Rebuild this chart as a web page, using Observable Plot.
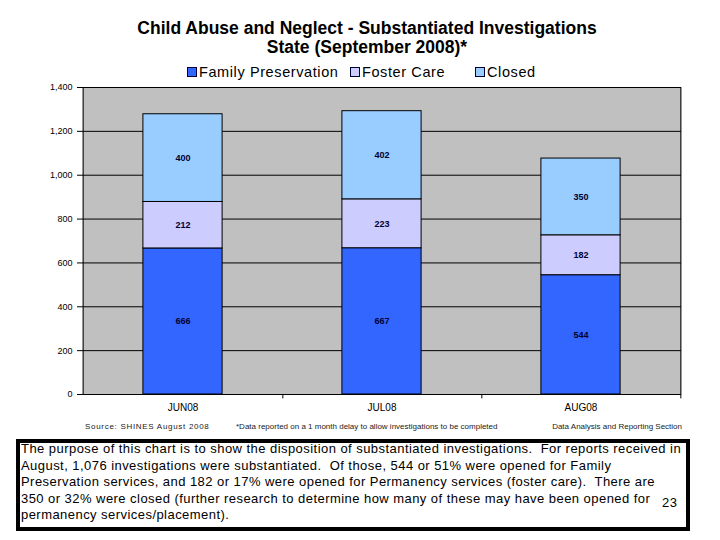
<!DOCTYPE html>
<html><head><meta charset="utf-8">
<script src="https://cdn.jsdelivr.net/npm/d3@7"></script>
<script src="https://cdn.jsdelivr.net/npm/@observablehq/plot@0.6"></script>
<style>
body{margin:0;background:#fff;font-family:"Liberation Sans",Arial,sans-serif;}
#wrap{position:relative;width:720px;height:540px;overflow:hidden;background:#fff;}
#title{position:absolute;left:0;width:734px;top:19px;text-align:center;font-weight:bold;font-size:17.5px;line-height:19px;color:#000;}
#legend{position:absolute;left:0;top:64px;width:720px;height:16px;font-size:14.5px;letter-spacing:0.6px;color:#000;white-space:nowrap;}
#legend .it{position:absolute;top:0;display:flex;align-items:center;height:16px;}
#legend .sw{width:8px;height:8px;border:1px solid #000033;margin-right:2px;}
#chart{position:absolute;left:0;top:78px;}
#notes{position:absolute;top:422px;left:0;width:720px;font-size:8px;color:#222;}
#notes span{position:absolute;white-space:nowrap;}
#box{position:absolute;left:16px;top:439px;width:666px;height:84px;border:4px solid #000;}
#box .ln{position:absolute;left:1px;white-space:pre;font-size:13px;line-height:16.5px;letter-spacing:0.45px;color:#000;}
#pg{position:absolute;left:642px;top:52px;font-size:13px;line-height:16.5px;letter-spacing:0.45px;}
</style></head><body>
<div id="wrap">
  <div id="title">Child Abuse and Neglect - Substantiated Investigations<br>State (September 2008)*</div>
  <div id="legend"></div>
  <div id="chart"></div>
  <div id="notes">
    <span style="left:85px;letter-spacing:0.7px">Source: SHINES August 2008</span>
    <span style="left:236px">*Data reported on a 1 month delay to allow investigations to be completed</span>
    <span style="right:38px">Data Analysis and Reporting Section</span>
  </div>
  <div id="box"></div>
</div>
<script>
const months = ["JUN08", "JUL08", "AUG08"];
const seriesNames = ["Family Preservation", "Foster Care", "Closed"];
const familyPreservation = [666, 667, 544];
const fosterCare = [212, 223, 182];
const closed = [400, 402, 350];
const seriesColors = ["#3366FF", "#CCCCFF", "#99CCFF"];
const yTicks = [0, 200, 400, 600, 800, 1000, 1200, 1400];
const boxLines = [
  "The purpose of this chart is to show the disposition of substantiated investigations.  For reports received in",
  "August, 1,076 investigations were substantiated.  Of those, 544 or 51% were opened for Family",
  "Preservation services, and 182 or 17% were opened for Permanency services (foster care).  There are",
  "350 or 32% were closed (further research to determine how many of these may have been opened for",
  "permanency services/placement)."
];
const pageNumber = "23";

const rows = [];
[familyPreservation, fosterCare, closed].forEach((vals, s) =>
  vals.forEach((v, i) => rows.push({month: months[i], series: seriesNames[s], value: v})));

const W = 720, H = 362, mL = 82, mR = 39, mT = 9, mB = 46;
const bw = (W - mL - mR) / months.length;

const chart = Plot.plot({
  width: W, height: H,
  marginTop: mT, marginLeft: mL, marginRight: mR, marginBottom: mB,
  style: {background: "transparent", fontFamily: "Liberation Sans, Arial, sans-serif", fontSize: "9px", color: "#000"},
  x: {domain: months, padding: 0, label: null},
  y: {domain: [0, 1400], label: null},
  color: {domain: seriesNames, range: seriesColors},
  marks: [
    Plot.frame({fill: "#C0C0C0", stroke: null}),
    Plot.gridY(yTicks, {stroke: "#000", strokeOpacity: 1, strokeWidth: 1}),
    Plot.barY(rows, Plot.stackY({x: "month", y: "value", fill: "series", order: seriesNames,
      stroke: "#000", strokeWidth: 1, insetLeft: bw * 0.3, insetRight: bw * 0.3})),
    Plot.text(rows, Plot.stackY({x: "month", y: "value", z: "series", order: seriesNames,
      text: d => String(d.value), fontWeight: "bold", fontSize: 9, fill: "#000033"})),
    Plot.axisY(yTicks, {tickFormat: d3.format(","), tickSize: 5, tickPadding: 5, fontSize: 9, label: null}),
    Plot.axisX({tickSize: 0, tickPadding: 9, fontSize: 10, label: null}),
    Plot.ruleY([0], {stroke: "#000"}),
    Plot.ruleX([months[0]], {dx: -bw / 2, stroke: "#000"}),
    Plot.ruleX([months[months.length - 1]], {dx: bw / 2, stroke: "#000", strokeWidth: 1}),
    Plot.ruleX(months, {dx: bw / 2, y1: 0, y2: -20, stroke: "#000"})
  ]
});
document.getElementById("chart").appendChild(chart);

const legend = document.getElementById("legend");
const legendLeft = [187, 350, 475];
seriesNames.forEach((n, i) => {
  const it = document.createElement("div");
  it.className = "it";
  it.style.left = legendLeft[i] + "px";
  const sw = document.createElement("div");
  sw.className = "sw";
  sw.style.background = seriesColors[i];
  const t = document.createElement("span");
  t.textContent = n;
  it.appendChild(sw); it.appendChild(t);
  legend.appendChild(it);
});

const box = document.getElementById("box");
boxLines.forEach((l, i) => {
  const d = document.createElement("div");
  d.className = "ln";
  d.style.top = (-2 + i * 16.5) + "px";
  d.textContent = l;
  box.appendChild(d);
});
const pg = document.createElement("div");
pg.id = "pg";
pg.textContent = pageNumber;
box.appendChild(pg);
</script>
</body></html>
